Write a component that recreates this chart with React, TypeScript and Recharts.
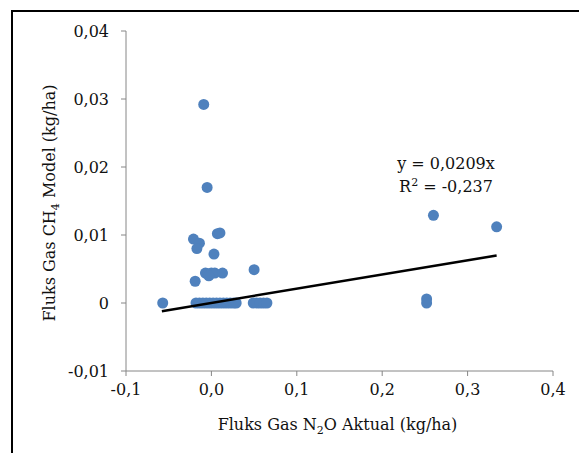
import { ScatterChart, Scatter, XAxis, YAxis, Label } from 'recharts';

// Fluks gas N2O aktual (x) vs CH4 model (y)
const actualN2O = [
  -0.057, -0.009, -0.005, 0.007, 0.010, -0.021, -0.014, -0.017, 0.003,
  -0.007, -0.004, 0.000, 0.004, 0.013, -0.003, 0.050, -0.019,
  -0.018, -0.014, -0.010, -0.006, -0.002, 0.002, 0.006, 0.010, 0.014, 0.018, 0.022, 0.026, 0.029,
  0.049, 0.053, 0.057, 0.061, 0.065,
  0.252, 0.252, 0.260, 0.334,
];
const modelCH4 = [
  0.0, 0.0292, 0.0170, 0.0102, 0.0103, 0.0094, 0.0088, 0.0080, 0.0072,
  0.0044, 0.0043, 0.0044, 0.0044, 0.0044, 0.0040, 0.0049, 0.0032,
  0, 0, 0, 0, 0, 0, 0, 0, 0, 0, 0, 0, 0,
  0, 0, 0, 0, 0,
  0.0006, 0.0, 0.0129, 0.0112,
];

// linear trendline y = 0,0209x, drawn across the data range
const trendX = [-0.058, 0.334];
const trendY = [-0.0012, 0.0070];

const xTicks = [-0.1, 0, 0.1, 0.2, 0.3, 0.4];
const yTicks = [-0.01, 0, 0.01, 0.02, 0.03, 0.04];

const points = actualN2O.map((x, i) => ({ x, y: modelCH4[i] }));
const trend = trendX.map((x, i) => ({ x, y: trendY[i] }));

const FONT = '"DejaVu Serif", serif';
const TEXT = '#111';
const AXIS = '#868686';

const fmtX = (v: number) => v.toFixed(1).replace('.', ',');
const fmtY = (v: number) => (v === 0 ? '0' : v.toFixed(2).replace('.', ','));

const Dot = (props: any) => {
  const { cx, cy } = props;
  if (cx == null || cy == null) return null;
  return <circle cx={cx} cy={cy} r={5.5} fill="#4f81bd" />;
};

const YTitle = (props: any) => {
  const vb = props.viewBox || { x: 50, y: 31, height: 340 };
  const x = vb.x + 5;
  const y = vb.y + vb.height / 2 + 2;
  return (
    <text
      x={x}
      y={y}
      transform={`rotate(-90 ${x} ${y})`}
      textAnchor="middle"
      fontFamily={FONT}
      fontSize={16}
      fill={TEXT}
    >
      Fluks Gas CH
      <tspan fontSize={11} dy={4}>4</tspan>
      <tspan dy={-4}> Model (kg/ha)</tspan>
    </text>
  );
};

const XTitle = (props: any) => {
  const vb = props.viewBox || { x: 126, y: 371, width: 427 };
  const x = vb.x + vb.width / 2 - 2;
  return (
    <text x={x} y={430} textAnchor="middle" fontFamily={FONT} fontSize={16} fill={TEXT}>
      Fluks Gas N
      <tspan fontSize={11} dy={4}>2</tspan>
      <tspan dy={-4}>O Aktual (kg/ha)</tspan>
    </text>
  );
};

export default function App() {
  return (
    <div
      style={{
        position: 'absolute',
        left: 0,
        top: 0,
        width: 579,
        height: 453,
        overflow: 'hidden',
        background: '#fff',
      }}
    >
      <div
        style={{
          position: 'absolute',
          left: 11,
          top: 10,
          width: 700,
          height: 600,
          border: '2px solid #000',
        }}
      />
      <div style={{ position: 'absolute', left: 0, top: 0 }}>
        <ScatterChart width={579} height={453} margin={{ top: 31, right: 26, bottom: 22, left: 50 }}>
          <XAxis
            type="number"
            dataKey="x"
            domain={[-0.1, 0.4]}
            ticks={xTicks}
            tickFormatter={fmtX}
            height={60}
            stroke={AXIS}
            tickSize={5}
            tickMargin={8}
            tick={{ fill: TEXT, fontFamily: FONT, fontSize: 16 }}
            allowDataOverflow
          >
            <Label content={<XTitle />} />
          </XAxis>
          <YAxis
            type="number"
            dataKey="y"
            domain={[-0.01, 0.04]}
            ticks={yTicks}
            tickFormatter={fmtY}
            width={76}
            stroke={AXIS}
            tickSize={5}
            tickMargin={12}
            tick={{ fill: TEXT, fontFamily: FONT, fontSize: 16 }}
            allowDataOverflow
          >
            <Label content={<YTitle />} />
          </YAxis>
          <Scatter data={points} shape={<Dot />} isAnimationActive={false} />
          <Scatter
            data={trend}
            line={{ stroke: '#000', strokeWidth: 2.5 }}
            shape={() => null}
            isAnimationActive={false}
          />
        </ScatterChart>
      </div>
      <div
        style={{
          position: 'absolute',
          left: 388,
          top: 152,
          width: 116,
          textAlign: 'center',
          fontFamily: FONT,
          fontSize: 16,
          lineHeight: '23px',
          color: TEXT,
        }}
      >
        <div>y = 0,0209x</div>
        <div>
          R<sup style={{ fontSize: 11, lineHeight: 0 }}>2</sup> = -0,237
        </div>
      </div>
    </div>
  );
}
